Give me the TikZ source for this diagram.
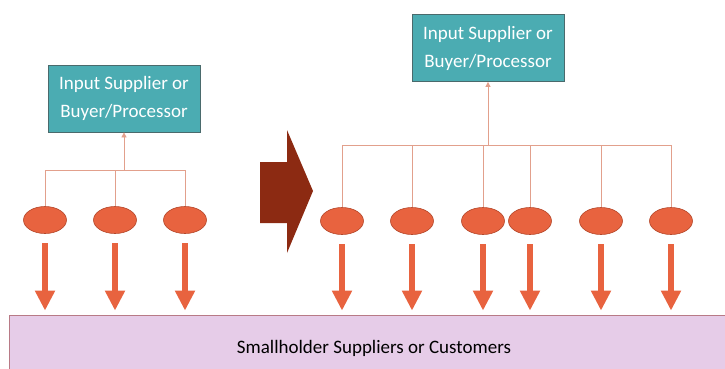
\documentclass[tikz,border=0pt]{standalone}
\usepackage{fontspec}
\setmainfont{Carlito}
\usetikzlibrary{arrows.meta,shapes.geometric}

\definecolor{boxteal}{HTML}{4BACB2}
\definecolor{boxedge}{HTML}{4A6A6C}
\definecolor{dotred}{HTML}{E8633F}
\definecolor{dotedge}{HTML}{B5472A}
\definecolor{linkred}{HTML}{E2A08C}
\definecolor{bigred}{HTML}{8C2A12}
\definecolor{baselilac}{HTML}{E6CCE8}
\definecolor{baseedge}{HTML}{B87A86}

\tikzset{
	actor/.style={draw=boxedge, fill=boxteal, text=white, line width=0.8pt,
		minimum width=152pt, minimum height=67pt, align=center,
		font=\fontsize{19}{28}\selectfont},
	dot/.style={ellipse, draw=dotedge, fill=dotred, line width=0.6pt,
		minimum width=43pt, minimum height=27pt, inner sep=0pt},
	link/.style={draw=linkred, line width=0.8pt},
	fat/.style={draw=dotred, line width=6pt, -{Triangle[width=19pt,length=20pt]},
		shorten <=9.5pt, shorten >=4pt},
	base/.style={draw=baseedge, fill=baselilac, line width=0.8pt,
		minimum width=730pt, minimum height=66pt, font=\fontsize{19}{22}\selectfont}
}

\begin{document}
\begin{tikzpicture}[x=1pt,y=-1pt]
	\clip (0,0) rectangle (725,368);
	
	% smallholders
	\node[base] (holders) at (374,348) {Smallholder Suppliers or Customers};
	
	% big arrow
	\fill[bigred] (260,162) -- (287,162) -- (287,130) -- (313,191)
		-- (287,253) -- (287,223) -- (260,223) -- cycle;
	
	% left: few links
	\node[actor] (buyerL) at (124,98.5) {Input Supplier or\\Buyer/Processor};
	\coordinate (forkL) at (124,170);
	\foreach \i/\x in {1/45, 2/115, 3/185}{
		\node[dot] (l\i) at (\x,220) {};
		\draw[link] (l\i.north) -- (l\i.north |- forkL);
		\draw[fat] (l\i.south) -- (l\i.south |- holders.north);
	}
	\draw[link] (l1.north |- forkL) -- (l3.north |- forkL);
	\draw[link, -{Triangle[width=5pt,length=5pt]}] (forkL) -- (buyerL.south);
	
	% right: many links
	\node[actor] (buyerR) at (488,48) {Input Supplier or\\Buyer/Processor};
	\coordinate (forkR) at (488,145);
	\foreach \i/\x in {1/342, 2/412, 3/483, 4/530, 5/601, 6/671}{
		\node[dot] (r\i) at (\x,221) {};
		\draw[link] (r\i.north) -- (r\i.north |- forkR);
		\draw[fat] (r\i.south) -- (r\i.south |- holders.north);
	}
	\draw[link] (r1.north |- forkR) -- (r6.north |- forkR);
	\draw[link, -{Triangle[width=5pt,length=5pt]}] (forkR) -- (buyerR.south);
	
\end{tikzpicture}
\end{document}
